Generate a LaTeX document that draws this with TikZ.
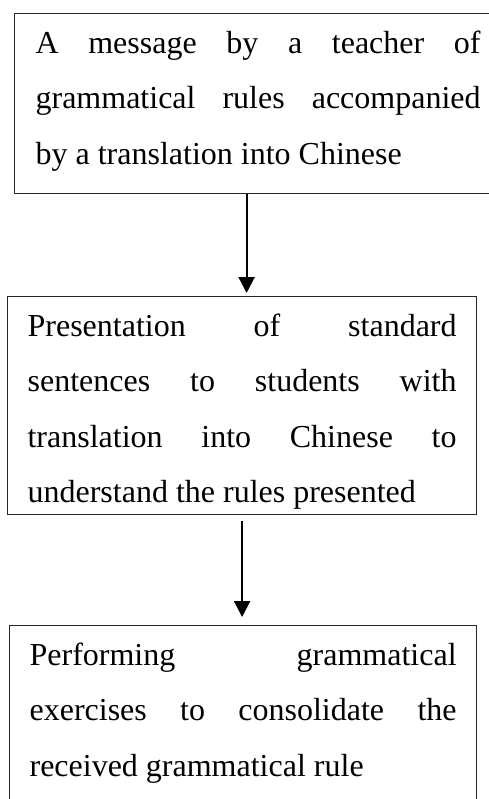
\documentclass[tikz,border=0pt]{standalone}
\usepackage{fontspec}
\setmainfont{Liberation Serif}
\usetikzlibrary{arrows.meta,positioning,calc}
\tolerance=10000
\hbadness=10000
\hyphenpenalty=10000

\begin{document}
\begin{tikzpicture}[x=1pt, y=-1pt,
    caja/.style={draw=black!85, line width=1.2pt, anchor=north west, align=justify,
      font=\fontsize{32}{55.3}\selectfont,
      inner xsep=20pt, inner ysep=0pt, text height=40pt},
    flecha/.style={line width=2.2pt, -{Triangle[width=16pt,length=16pt]}}
  ]
    \useasboundingbox (0,0) rectangle (489,799);
    \clip (0,0) rectangle (489,799);
    \node[caja, text width=445pt, inner xsep=21pt, text depth=140pt] (c1) at (14,13)
      {A message by a teacher of\linebreak grammatical rules accompanied\linebreak by a translation into Chinese};
    \node[caja, text width=429pt, text depth=178pt] (c2) at (7,296)
      {Presentation of standard\linebreak sentences to students with\linebreak translation into Chinese to\linebreak understand the rules presented};
    \node[caja, text width=427pt, text depth=150pt] (c3) at (9,625)
      {Performing grammatical\linebreak exercises to consolidate the\linebreak received grammatical rule};
    \draw[flecha] ([xshift=4.5pt]c2.north |- c1.south) -- ([xshift=4.5pt,yshift=3pt]c2.north);
    \draw[flecha] ([yshift=-6pt]c2.south) -- ([yshift=8pt]c3.north -| c2.south);
  \end{tikzpicture}
\end{document}
